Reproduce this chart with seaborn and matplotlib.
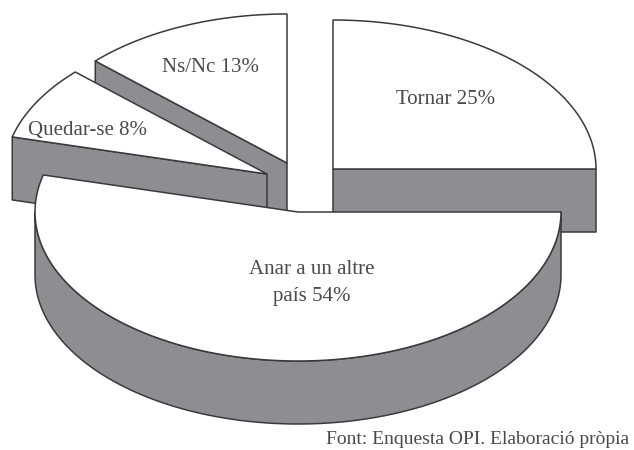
import matplotlib.pyplot as plt
import numpy as np
import seaborn as sns

labels = ["Tornar 25%", "Anar a un altre\npaís 54%", "Quedar-se 8%", "Ns/Nc 13%"]
values = [25, 54, 8, 13]
source = "Font: Enquesta OPI. Elaboració pròpia"

# pixel geometry of the exploded pie
RX, RY, DEPTH = 263, 149, 63
CENTERS = [(333, 169), (298, 212), (267, 174), (287, 163)]
LABEL_POS = [(446, 100), (312, 283), (88, 130), (210, 67)]
GRAY = "#8e8e92"
EDGE = "#3a3a3c"
TEXT = "#4a4a4a"

sns.set_theme(style="white")
plt.rcParams["font.family"] = ["Liberation Serif", "DejaVu Serif"]

fig, ax = plt.subplots(figsize=(6.34, 4.5), dpi=100)
ax.set_position([0, 0, 1, 1])
ax.set_xlim(0, 634)
ax.set_ylim(450, 0)
ax.axis("off")


def arc(center, a0, a1, drop=0):
    t = np.radians(np.linspace(a0, a1, 120))
    return center[0] + RX * np.cos(t), center[1] - RY * np.sin(t) + drop


def poly(xs, ys, color):
    ax.fill(xs, ys, facecolor=color, edgecolor=EDGE, linewidth=1.1, joinstyle="round")


# clockwise from 12 o'clock
edges = 90 - np.cumsum([0] + values) * 3.6
spans = list(zip(edges[:-1], edges[1:]))


def draw_slice(i):
    c = CENTERS[i]
    a_start, a_end = spans[i]
    xs, ys = arc(c, a_start, a_end)
    # side wall of the cut face that looks at the viewer
    k = -1 if i in (0, 1) else 0
    ex, ey = xs[k], ys[k]
    if i != 1:
        poly([c[0], ex, ex, c[0]], [c[1], ey, ey + DEPTH, c[1] + DEPTH], GRAY)
    else:
        # rounded front wall of the big slice
        fx, fy = arc(c, 0, -180)
        bx, by = arc(c, -180, 0, DEPTH)
        poly(np.r_[fx, bx], np.r_[fy, by], GRAY)
    poly(np.r_[c[0], xs], np.r_[c[1], ys], "white")


for i in [3, 0, 2, 1]:
    draw_slice(i)

for lab, (x, y) in zip(labels, LABEL_POS):
    ax.text(x, y, lab, ha="center", va="center", fontsize=15, color=TEXT, linespacing=1.5)

ax.text(326, 440, source, ha="left", va="center", fontsize=14, color=TEXT)

fig.savefig("out.png", dpi=100)
